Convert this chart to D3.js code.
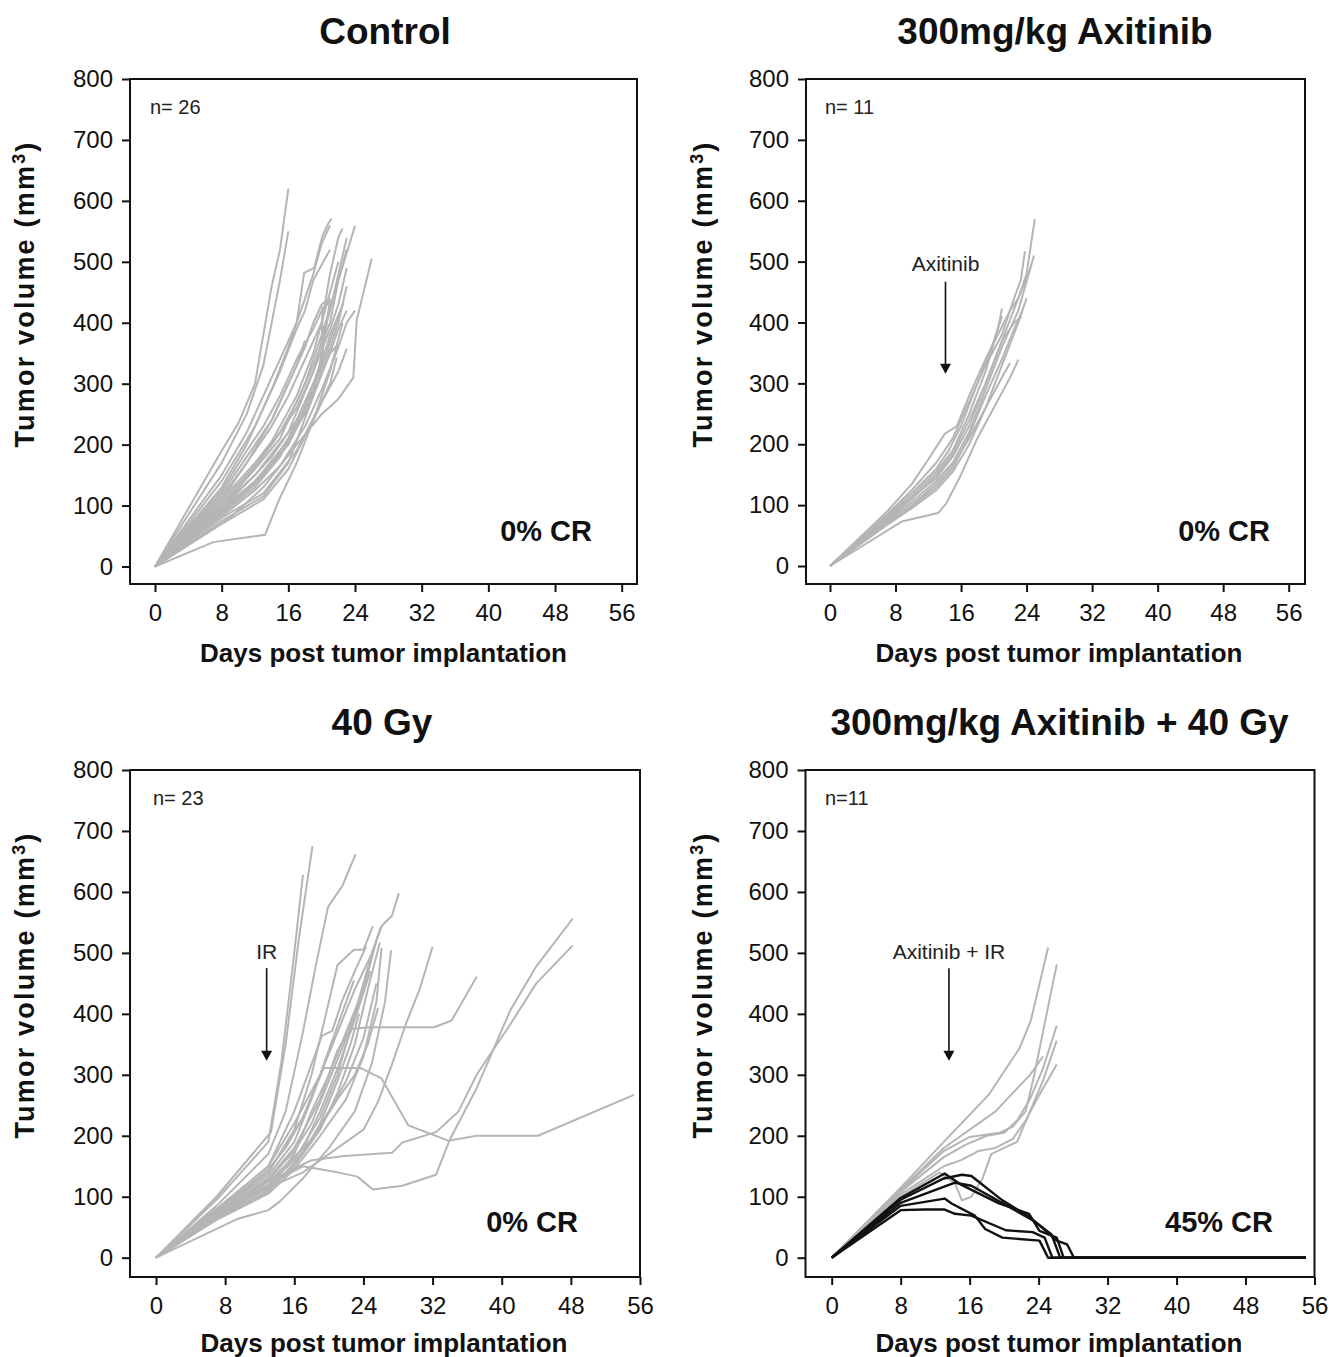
<!DOCTYPE html>
<html><head><meta charset="utf-8">
<script src="https://cdn.jsdelivr.net/npm/d3@7"></script>
<style>
body{margin:0;background:#fff}
text{font-family:"Liberation Sans",Arial,Helvetica,sans-serif}
</style>
</head><body>
<svg id="chart" width="1329" height="1357"></svg>
<script>
// ---------- data ----------
const xTicks = [0, 8, 16, 24, 32, 40, 48, 56];
const yTicks = [0, 100, 200, 300, 400, 500, 600, 700, 800];
const panelTitles = ["Control", "300mg/kg Axitinib", "40 Gy", "300mg/kg Axitinib + 40 Gy"];
const nLabels = ["n= 26", "n= 11", "n= 23", "n=11"];
const crLabels = ["0% CR", "0% CR", "0% CR", "45% CR"];
const xLabel = "Days post tumor implantation";

// Control: [day, volume mm3]
const controlSeries = [
  [[0,0],[8,190],[10,235],[12,300],[13,380],[14,460],[15,520],[16,620]],
  [[0,0],[8,170],[11,250],[13,330],[14,400],[15,470],[16,550]],
  [[0,0],[8,150],[11,220],[13,280],[15,340],[17,400],[17.9,482],[19.1,490],[20.1,543],[20.8,563],[21.2,571]],
  [[0,0],[8,130],[11,200],[14,290],[16,360],[18,440],[19,480],[20,530],[21,560]],
  [[0,0],[8,140],[12,230],[15,320],[17,390],[18,420],[19,470],[21,520]],
  [[0,0],[8,110],[11,170],[14,240],[17,330],[18,371]],
  [[0,0],[8,100],[12,160],[15,210],[18,300],[20,380],[22,470],[24,559]],
  [[0,0],[8,95],[12,150],[16,220],[19,320],[21,420],[23,539]],
  [[0,0],[9,80],[13,130],[17,200],[20,250],[22,275],[23.8,310],[24.2,404],[26,505]],
  [[0,0],[8,90],[12,140],[16,200],[19,290],[21,380],[22.6,432]],
  [[0,0],[8,85],[12,130],[15,180],[18,260],[20,340],[21,438]],
  [[0,0],[8,75],[13,115],[16,170],[19,280],[20,350],[20.1,427]],
  [[0,0],[8,80],[13,120],[17,190],[20,270],[22,320],[23,357]],
  [[0,0],[8,70],[13,110],[16,160],[19,240],[21,300],[21.8,343]],
  [[0,0],[7,40],[13.2,52],[14.9,110],[17,170],[19,240],[21,320],[22.5,400]],
  [[0,0],[8,120],[11,180],[14,240],[16,300],[18,360],[19,400],[20,430],[21,440]],
  [[0,0],[8,105],[12,165],[15,220],[17,270],[19,330],[21,400],[22,470],[23,520]],
  [[0,0],[8,100],[11,145],[14,200],[17,260],[19,320],[21,390],[22,430],[23,490]],
  [[0,0],[8,95],[12,140],[15,190],[18,250],[20,320],[22,400],[23,460]],
  [[0,0],[8,88],[12,135],[16,200],[19,280],[21,350],[22,390],[23,420]],
  [[0,0],[8,92],[13,150],[16,210],[18,270],[20,330],[21,370],[22,410]],
  [[0,0],[8,110],[12,170],[14,205],[17,280],[19,350],[20,400],[21,450],[22,500]],
  [[0,0],[8,125],[11,190],[13,230],[15,280],[17,340],[19,390],[20,420],[21,435]],
  [[0,0],[8,82],[12,125],[15,165],[18,230],[20,290],[22,360],[23,400],[24,420]],
  [[0,0],[8,100],[12,150],[14,180],[17,240],[19,300],[21,350],[22,365]],
  [[0,0],[8,115],[11,170],[14,230],[16,280],[18,340],[20,400],[21,480],[22,540],[22.5,555]]
];

// 300mg/kg Axitinib
const axitinibSeries = [
  [[0,0],[7,90],[10,135],[12,175],[14,217],[15.5,230],[17,280],[19,340],[20.5,380],[22,420],[23,440],[24,480],[25,570]],
  [[0,0],[7,85],[10,125],[13,170],[15,210],[17,270],[19,330],[21,380],[22.4,437],[23.3,470],[23.8,517]],
  [[0,0],[7,80],[10,115],[13,155],[15,190],[17,250],[19,320],[20.5,390],[21,423]],
  [[0,0],[7,78],[10,110],[13,150],[15,185],[17,240],[19,300],[21,370],[22.5,400],[23.4,409]],
  [[0,0],[7,75],[10,105],[13,140],[15,170],[17,220],[19,290],[21,360],[23,420],[24.9,510]],
  [[0,0],[7,72],[10,100],[13,135],[15,165],[17,210],[19,260],[21,310],[22,334]],
  [[0,0],[8.75,73],[13.2,87],[14.2,103],[16,150],[18,210],[20,260],[22,310],[23,339]],
  [[0,0],[7,70],[10,98],[13,130],[15,160],[17,215],[19,280],[21,340],[22.5,390],[23.5,420]],
  [[0,0],[7,82],[10,120],[13,160],[14.5,190],[16,230],[18,300],[20,370],[21,410]],
  [[0,0],[7,68],[10,95],[13,125],[15,155],[17,200],[19,260],[21,330],[23,400],[24,440]],
  [[0,0],[7,76],[10,112],[13,145],[15,180],[17,230],[19,300],[21,370],[23,440],[24.5,490]]
];

// 40 Gy
const irSeries = [
  [[0,0],[7,70],[13,120],[17,150],[21,140],[23.3,133],[25.1,112],[28.5,118],[32.4,136],[34,194],[37.1,278],[41,406],[44,478],[48.2,556]],
  [[0,0],[7,72],[13,125],[18,160],[21.8,167],[27.3,172],[28.5,189],[32.4,206],[35,240],[37.1,300],[41,383],[44,450],[48.2,512]],
  [[0,0],[7,75],[13,140],[17,230],[19.4,311],[23.7,311],[26.1,294],[29.2,217],[33.8,192],[37.1,200],[44.2,200],[55.3,267]],
  [[0,0],[7,72],[13,130],[16,180],[19,260],[21,340],[22.5,375],[24.7,378],[32.2,378],[34.2,389],[37.1,461]],
  [[0,0],[7,68],[13,115],[17,140],[20,170],[24,210],[25.7,256],[27.3,317],[28.9,383],[30.5,440],[32,510]],
  [[0,0],[7,80],[13,150],[16,220],[19,300],[21,370],[23,440],[25,500],[26.1,544],[27.3,561],[28.1,598]],
  [[0,0],[7,85],[13,170],[15,240],[17,370],[18.5,480],[19.9,575],[21.6,611],[23.1,662]],
  [[0,0],[7,100],[13.3,206],[15,350],[16.5,520],[18.1,675]],
  [[0,0],[7,95],[13,190],[14.5,320],[16,500],[17,628]],
  [[0,0],[7,78],[13,140],[16,210],[18,300],[19.5,390],[21,480],[22.9,505],[24,505],[25.1,544]],
  [[0,0],[7,70],[13,120],[16,160],[19,230],[21,300],[23,400],[25,500],[26,542]],
  [[0,0],[7,65],[13,110],[16,150],[19,210],[21,270],[23,350],[24.5,440],[25.9,517]],
  [[0,0],[7,62],[13,105],[16,145],[19,200],[22,260],[24,330],[25.5,420],[26.1,508]],
  [[0,0],[9.5,64],[13,78],[14.3,92],[17,130],[20,180],[23,240],[25,320],[26.5,420],[27.2,504]],
  [[0,0],[7,74],[13,135],[16,190],[18,260],[20,340],[21.5,400],[22.9,455]],
  [[0,0],[7,80],[13,150],[16,240],[19.2,364],[20.4,372],[21.5,420],[23,470],[24.3,510]],
  [[0,0],[7,66],[13,115],[16,170],[18,240],[20,300],[22,370],[24,440],[25.5,520]],
  [[0,0],[7,68],[13,118],[15,150],[17,180],[19,240],[21,310],[23,390],[24.8,470]],
  [[0,0],[7,72],[13,128],[16,175],[18,220],[20,290],[22,360],[23.5,420]],
  [[0,0],[7,64],[12,100],[15,140],[17,170],[19,220],[21,290],[22.5,350],[23.5,400]],
  [[0,0],[7,76],[13,145],[15,180],[17,230],[19,300],[20.5,360]],
  [[0,0],[7,69],[13,125],[16,165],[18,195],[20,240],[22,290],[24,360],[25.5,450]],
  [[0,0],[7,63],[13,108],[16,155],[19,215],[21,260],[23,300],[24.5,350],[25.7,410]]
];

// 300mg/kg Axitinib + 40 Gy : progressing (gray)
const comboGraySeries = [
  [[0,0],[8,115],[13,190],[18.2,267],[21.8,344],[23.1,389],[25.1,509]],
  [[0,0],[8,110],[13,175],[16,198],[19.5,205],[21,215],[22.5,240],[23.5,300],[24.5,370],[26.1,481]],
  [[0,0],[8,108],[13,165],[15.5,185],[18,200],[20,205],[21.5,225],[23,260],[24.5,310],[26.1,381]],
  [[0,0],[8,100],[12.5,140],[14.3,122],[15.1,94],[16.2,100],[17.5,130],[18.5,170],[20,180],[21.5,190],[23,240],[24.5,290],[26.1,356]],
  [[0,0],[8,104],[13,150],[15,160],[17,175],[19,180],[21,195],[22.5,225],[24,265],[26.1,317]],
  [[0,0],[8,112],[13,180],[15,200],[17,220],[19,240],[21,270],[23,300],[24.5,330]]
];
// complete responders (black)
const comboBlackSeries = [
  [[0,0],[8,95],[13,130],[15.1,136],[16.2,134],[19.8,94],[22.9,67],[24.1,53],[26.1,28],[27.3,22],[28.1,0],[55,0]],
  [[0,0],[8,98],[13.1,138],[15.1,119],[19.4,89],[22.9,72],[24.1,44],[26.1,33],[26.9,0],[55,0]],
  [[0,0],[8,90],[14.3,123],[16.2,118],[18.5,100],[21,80],[23.5,60],[25.5,38],[26.5,0],[55,0]],
  [[0,0],[8,85],[13.1,97],[13.9,89],[16.6,69],[17.8,47],[19.8,33],[24.1,28],[25.1,0],[55,0]],
  [[0,0],[8,78],[10.7,79],[13.1,79],[14.3,72],[16.2,69],[20.2,45],[23.3,42],[24.7,33],[25.6,0],[55,0]]
];

// treatment arrows: [day, text value, arrow start value, arrow tip value]
const annotationTexts = [null, "Axitinib", "IR", "Axitinib + IR"];
const annotationPos = [null, [14.1, 485, 467, 316], [12.8, 490, 475, 323], [13.6, 490, 475, 323]];

// ---------- layout ----------
const layouts = [
  {fl:130, fr:637, ft:79, fb:584, x0:155, x56:621.7, y0:566.5, y800:79,
   title:[385,44], xl:[383.5,662], yl:[25,294], n:[150,114], cr:[592,541]},
  {fl:806, fr:1305, ft:79, fb:584, x0:830, x56:1288.7, y0:566, y800:79,
   title:[1055,44], xl:[1059,662], yl:[703,294], n:[825,114], cr:[1270,541]},
  {fl:130, fr:640, ft:770, fb:1277, x0:156, x56:640, y0:1257.7, y800:770,
   title:[382,735], xl:[384,1352], yl:[25,985], n:[153,805], cr:[578,1232]},
  {fl:805.5, fr:1314.5, ft:770, fb:1277, x0:831.7, x56:1314.5, y0:1257.7, y800:770,
   title:[1059.5,735], xl:[1059,1352], yl:[703,985], n:[825,805], cr:[1273,1232]}
];

const panelData = [
  [{series: controlSeries, color: "#b5b5b5", w: 2}],
  [{series: axitinibSeries, color: "#b5b5b5", w: 2}],
  [{series: irSeries, color: "#b5b5b5", w: 2}],
  [{series: comboGraySeries, color: "#b5b5b5", w: 2}, {series: comboBlackSeries, color: "#111", w: 2.4}]
];

const svg = d3.select("#chart");
const FONT = '"Liberation Sans",Arial,Helvetica,sans-serif';

layouts.forEach((L, i) => {
  const x = d3.scaleLinear().domain([0, 56]).range([L.x0, L.x56]);
  const y = d3.scaleLinear().domain([0, 800]).range([L.y0, L.y800]);
  const g = svg.append("g");

  // data lines
  const line = d3.line().x(d => x(d[0])).y(d => y(d[1]));
  panelData[i].forEach(grp => {
    g.append("g").selectAll("path").data(grp.series).join("path")
      .attr("d", line).attr("fill", "none")
      .attr("stroke", grp.color).attr("stroke-width", grp.w)
      .attr("stroke-linejoin", "round");
  });

  // frame
  g.append("rect").attr("x", L.fl).attr("y", L.ft)
    .attr("width", L.fr - L.fl).attr("height", L.fb - L.ft)
    .attr("fill", "none").attr("stroke", "#111").attr("stroke-width", 2);

  // axes
  const ya = g.append("g").attr("transform", `translate(${L.fl},0)`)
    .call(d3.axisLeft(y).tickValues(yTicks).tickSize(8).tickPadding(9));
  const xa = g.append("g").attr("transform", `translate(0,${L.fb})`)
    .call(d3.axisBottom(x).tickValues(xTicks).tickSize(8).tickPadding(12));
  [ya, xa].forEach(a => {
    a.select(".domain").remove();
    a.selectAll("line").attr("stroke", "#111").attr("stroke-width", 2);
    a.selectAll("text").attr("font-size", 24).attr("font-family", FONT).attr("fill", "#111");
  });

  // title
  g.append("text").attr("x", L.title[0]).attr("y", L.title[1])
    .attr("text-anchor", "middle").attr("font-size", 37).attr("font-weight", "bold")
    .attr("fill", "#111").text(panelTitles[i]);

  // x label
  g.append("text").attr("x", L.xl[0]).attr("y", L.xl[1])
    .attr("text-anchor", "middle").attr("font-size", 26).attr("font-weight", "bold")
    .attr("fill", "#111").text(xLabel);

  // y label
  const yl = g.append("text")
    .attr("transform", `translate(${L.yl[0]},${L.yl[1]}) rotate(-90)`)
    .attr("text-anchor", "middle").attr("dy", "0.35em")
    .attr("font-size", 27).attr("font-weight", "bold").attr("fill", "#111")
    .attr("letter-spacing", 2.2);
  yl.append("tspan").text("Tumor volume (mm");
  yl.append("tspan").attr("font-size", 18).attr("dy", "-0.55em").text("3");
  yl.append("tspan").attr("dy", "0.37em").text(")");

  // n label
  g.append("text").attr("x", L.n[0]).attr("y", L.n[1])
    .attr("font-size", 20).attr("fill", "#222").text(nLabels[i]);

  // CR label
  g.append("text").attr("x", L.cr[0]).attr("y", L.cr[1])
    .attr("text-anchor", "end").attr("font-size", 29).attr("font-weight", "bold")
    .attr("fill", "#111").text(crLabels[i]);

  // annotation arrow
  if (annotationTexts[i]) {
    const [d, tv, v1, v2] = annotationPos[i];
    g.append("text").attr("x", x(d)).attr("y", y(tv))
      .attr("text-anchor", "middle").attr("font-size", 21).attr("fill", "#222")
      .text(annotationTexts[i]);
    g.append("line").attr("x1", x(d)).attr("x2", x(d))
      .attr("y1", y(v1)).attr("y2", y(v2) - 9)
      .attr("stroke", "#111").attr("stroke-width", 1.6);
    const tx = x(d), ty = y(v2);
    g.append("path").attr("d", `M${tx - 5.5},${ty - 10}L${tx + 5.5},${ty - 10}L${tx},${ty}Z`)
      .attr("fill", "#111");
  }
});
</script>
</body></html>
